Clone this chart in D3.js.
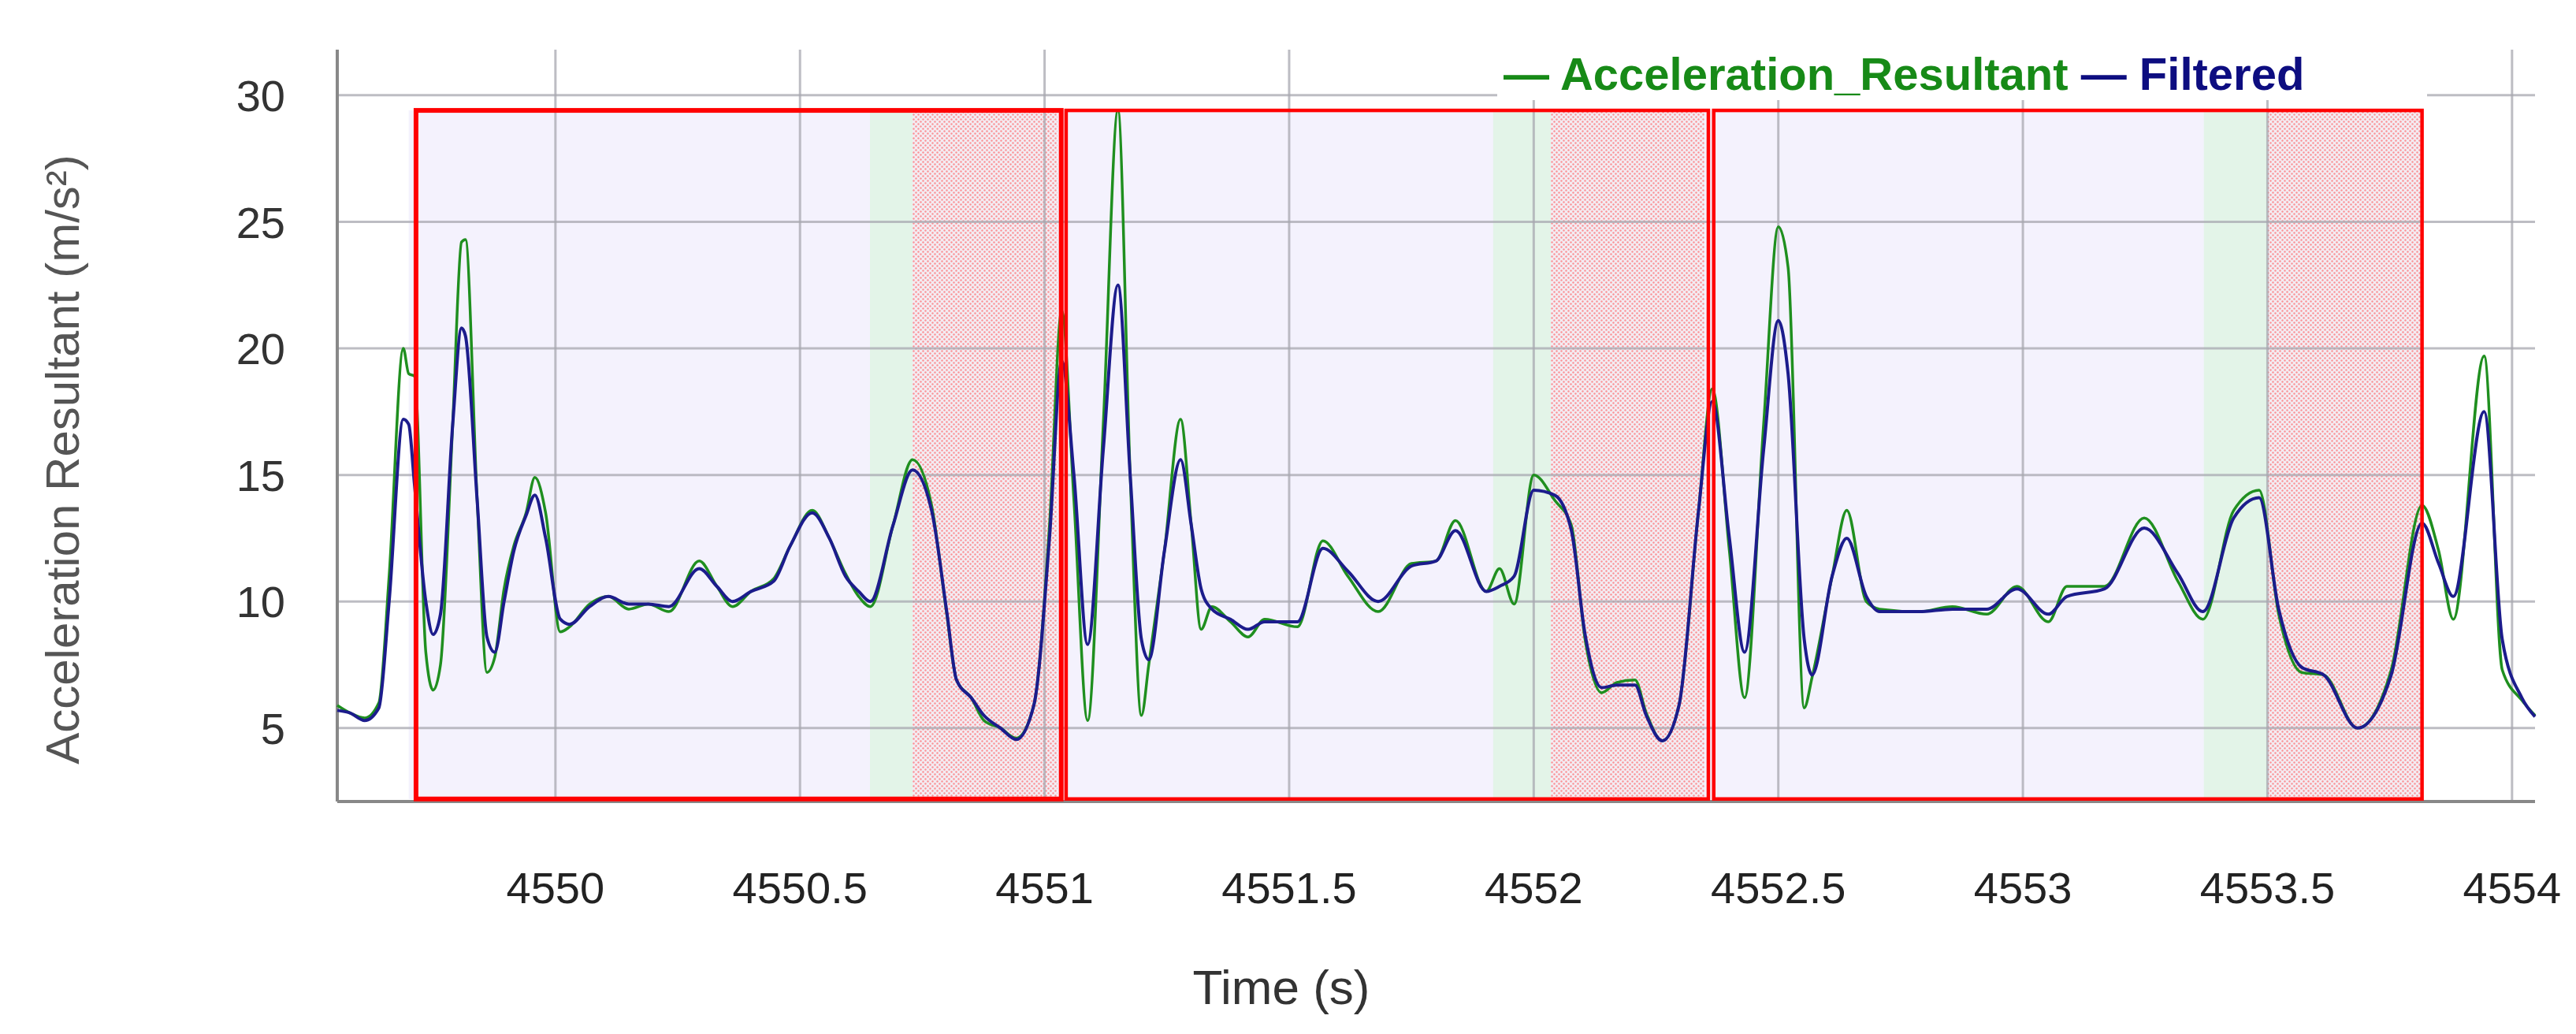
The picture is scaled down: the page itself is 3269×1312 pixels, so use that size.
<!DOCTYPE html>
<html>
<head>
<meta charset="utf-8">
<script src="https://cdn.jsdelivr.net/npm/d3@7"></script>
<style>
  body { margin: 0; background: #fff; }
  svg { display: block; font-family: "Liberation Sans", Arial, sans-serif; }
</style>
</head>
<body>
<svg id="chart" width="3269" height="1312"></svg>
<script>
// data
const time = [4549.554,4549.580,4549.610,4549.639,4549.660,4549.689,4549.700,4549.712,4549.735,4549.750,4549.765,4549.790,4549.808,4549.816,4549.840,4549.860,4549.876,4549.895,4549.915,4549.940,4549.958,4549.980,4550.010,4550.029,4550.070,4550.108,4550.150,4550.190,4550.232,4550.294,4550.330,4550.362,4550.400,4550.446,4550.480,4550.525,4550.560,4550.593,4550.620,4550.644,4550.690,4550.730,4550.769,4550.800,4550.820,4550.850,4550.876,4550.910,4550.942,4550.978,4551.010,4551.035,4551.060,4551.088,4551.120,4551.150,4551.175,4551.198,4551.213,4551.245,4551.278,4551.300,4551.320,4551.342,4551.380,4551.416,4551.450,4551.517,4551.569,4551.620,4551.682,4551.750,4551.800,4551.840,4551.903,4551.930,4551.960,4552.000,4552.043,4552.077,4552.105,4552.139,4552.170,4552.207,4552.230,4552.263,4552.297,4552.337,4552.365,4552.400,4552.431,4552.470,4552.500,4552.520,4552.553,4552.569,4552.610,4552.640,4552.680,4552.707,4552.787,4552.856,4552.926,4552.988,4553.052,4553.090,4553.167,4553.248,4553.317,4553.368,4553.431,4553.483,4553.523,4553.570,4553.615,4553.684,4553.753,4553.816,4553.850,4553.880,4553.943,4553.980,4554.020,4554.047];
const raw = [5.9,5.6,5.4,6.0,11.0,20.0,19.0,18.9,8.0,6.5,7.5,17.0,24.2,24.3,14.0,7.2,7.8,10.5,12.2,13.5,14.9,13.5,8.8,9.0,9.9,10.2,9.7,9.9,9.6,11.6,10.6,9.8,10.4,10.9,12.2,13.6,12.5,11.1,10.2,9.8,13.0,15.6,13.8,9.5,6.9,6.2,5.3,5.0,4.6,5.9,13.0,21.5,14.0,5.3,17.0,29.4,15.0,5.5,7.5,12.0,17.2,13.0,8.9,9.8,9.2,8.6,9.3,9.0,12.4,11.0,9.6,11.5,11.6,13.2,10.4,11.3,9.9,15.0,14.0,13.0,8.5,6.4,6.8,6.9,5.6,4.5,5.9,13.6,18.4,12.0,6.2,17.0,24.8,23.2,5.8,7.0,11.0,13.6,10.0,9.7,9.6,9.8,9.5,10.6,9.2,10.6,10.6,13.3,10.8,9.3,13.6,14.4,9.5,7.2,7.1,5.0,7.3,13.8,12.0,9.3,19.7,7.3,6.1,5.5];
const filtered = [5.7,5.6,5.3,5.8,10.0,17.2,17.0,14.6,10.0,8.7,9.5,17.0,20.8,20.5,14.0,8.6,8.0,10.0,12.0,13.4,14.2,12.5,9.3,9.1,9.8,10.2,9.9,9.9,9.8,11.3,10.6,10.0,10.4,10.8,12.2,13.5,12.5,11.0,10.4,10.0,13.0,15.2,13.6,9.6,6.9,6.2,5.5,5.0,4.55,5.9,12.5,19.5,15.0,8.3,16.0,22.5,15.0,8.5,7.7,12.0,15.6,13.0,10.5,9.7,9.3,8.9,9.2,9.2,12.1,11.2,10.0,11.4,11.6,12.8,10.4,10.6,11.0,14.4,14.2,12.8,8.7,6.6,6.7,6.7,5.5,4.5,5.9,13.6,17.9,12.5,8.0,16.0,21.1,19.0,8.5,7.1,11.0,12.5,10.2,9.6,9.6,9.7,9.7,10.5,9.5,10.2,10.5,12.9,11.1,9.6,13.3,14.1,9.7,7.4,7.1,5.0,7.1,13.1,11.5,10.2,17.5,8.5,6.2,5.45];

// phases: [start, end]
const cycles = [[4549.715, 4551.034], [4551.044, 4552.357], [4552.368, 4553.816]];
const greenBands = [[4550.643, 4550.730], [4551.917, 4552.035], [4553.370, 4553.500]];
const redBands = [[4550.730, 4551.026], [4552.035, 4552.349], [4553.500, 4553.813]];
const lavender = [4549.700, 4553.816];
const xTicks = [4550, 4550.5, 4551, 4551.5, 4552, 4552.5, 4553, 4553.5, 4554];
const yTicks = [5, 10, 15, 20, 25, 30];
const rectTop = 29.4, rectBottom = 2.2;

const svg = d3.select("#chart");
const L = 428, R = 3217, T = 63, B = 1017;

const x = d3.scaleLinear().domain([4549.554, 4554.047]).range([L, R]);
const y = d3.scaleLinear().domain([2.1, 31.8]).range([B, T]);

// dotted pattern for red bands
const defs = svg.append("defs");
const pat = defs.append("pattern").attr("id", "dots")
  .attr("patternUnits", "userSpaceOnUse").attr("width", 6).attr("height", 6);
pat.append("rect").attr("width", 6).attr("height", 6).attr("fill", "#f3e8ea");
pat.append("circle").attr("cx", 1.5).attr("cy", 1.5).attr("r", 1.2).attr("fill", "#ff5050");
pat.append("circle").attr("cx", 4.5).attr("cy", 4.5).attr("r", 1.2).attr("fill", "#ff5050");

const bandTop = y(rectTop), bandBot = y(rectBottom);

svg.append("rect")
  .attr("x", x(lavender[0])).attr("width", x(lavender[1]) - x(lavender[0]))
  .attr("y", bandTop).attr("height", bandBot - bandTop)
  .attr("fill", "#f4f2fd");

svg.selectAll(".gband").data(greenBands).enter().append("rect")
  .attr("x", d => x(d[0])).attr("width", d => x(d[1]) - x(d[0]))
  .attr("y", bandTop).attr("height", bandBot - bandTop)
  .attr("fill", "#e3f4e8");

svg.selectAll(".rband").data(redBands).enter().append("rect")
  .attr("x", d => x(d[0])).attr("width", d => x(d[1]) - x(d[0]))
  .attr("y", bandTop).attr("height", bandBot - bandTop)
  .attr("fill", "url(#dots)").attr("opacity", 0.6);

// gridlines
svg.append("g").selectAll("line").data(yTicks).enter().append("line")
  .attr("x1", L).attr("x2", R).attr("y1", d => y(d)).attr("y2", d => y(d))
  .attr("stroke", "#a8a8b0").attr("stroke-width", 3).attr("opacity", 0.75);
svg.append("g").selectAll("line").data(xTicks).enter().append("line")
  .attr("x1", d => x(d)).attr("x2", d => x(d)).attr("y1", T).attr("y2", B)
  .attr("stroke", "#a8a8b0").attr("stroke-width", 3).attr("opacity", 0.75);

// axes lines
svg.append("line").attr("x1", L).attr("x2", L).attr("y1", T).attr("y2", B)
  .attr("stroke", "#888").attr("stroke-width", 4);
svg.append("line").attr("x1", L).attr("x2", R).attr("y1", B).attr("y2", B)
  .attr("stroke", "#888").attr("stroke-width", 4);

// lines
const ptsRaw = time.map((t, i) => [t, raw[i]]);
const ptsFil = time.map((t, i) => [t, filtered[i]]);
svg.append("path").datum(ptsRaw)
  .attr("d", d3.line().x(d => x(d[0])).y(d => y(d[1])).curve(d3.curveMonotoneX))
  .attr("fill", "none").attr("stroke", "#1f8f1f").attr("stroke-width", 3.5);
svg.append("path").datum(ptsFil)
  .attr("d", d3.line().x(d => x(d[0])).y(d => y(d[1])).curve(d3.curveMonotoneX))
  .attr("fill", "none").attr("stroke", "#1c1c8c").attr("stroke-width", 4);

// cycle rectangles
svg.selectAll(".cyc").data(cycles).enter().append("rect")
  .attr("x", d => x(d[0])).attr("width", d => x(d[1]) - x(d[0]))
  .attr("y", bandTop).attr("height", bandBot - bandTop)
  .attr("fill", "none").attr("stroke", "#ff0000")
  .attr("stroke-width", (d, i) => i === 0 ? 6 : 4.5);

// tick labels
svg.append("g").selectAll("text").data(yTicks).enter().append("text")
  .attr("x", 362).attr("y", d => y(d)).attr("dy", "0.36em")
  .attr("text-anchor", "end").attr("font-size", 56).attr("fill", "#333")
  .text(d => d);
svg.append("g").selectAll("text").data(xTicks).enter().append("text")
  .attr("x", d => x(d)).attr("y", 1146)
  .attr("text-anchor", "middle").attr("font-size", 56).attr("fill", "#222")
  .text(d => d);

// axis titles
svg.append("text")
  .attr("transform", "translate(100,583) rotate(-90)")
  .attr("text-anchor", "middle").attr("font-size", 60).attr("fill", "#555")
  .text("Acceleration Resultant (m/s²)");
svg.append("text")
  .attr("x", 1626).attr("y", 1274).attr("text-anchor", "middle")
  .attr("font-size", 62).attr("fill", "#333")
  .text("Time (s)");

// legend
const leg = svg.append("g").attr("transform", "translate(1900,0)");
leg.append("rect").attr("x", 0).attr("y", 55).attr("width", 1180).attr("height", 72).attr("fill", "#fff");
const legText = leg.append("text").attr("x", 8).attr("y", 114)
  .attr("font-size", 58).attr("font-weight", "bold");
legText.append("tspan").attr("fill", "#178a17").text("— Acceleration_Resultant ");
legText.append("tspan").attr("fill", "#0d0d80").text("— Filtered");
</script>
</body>
</html>
